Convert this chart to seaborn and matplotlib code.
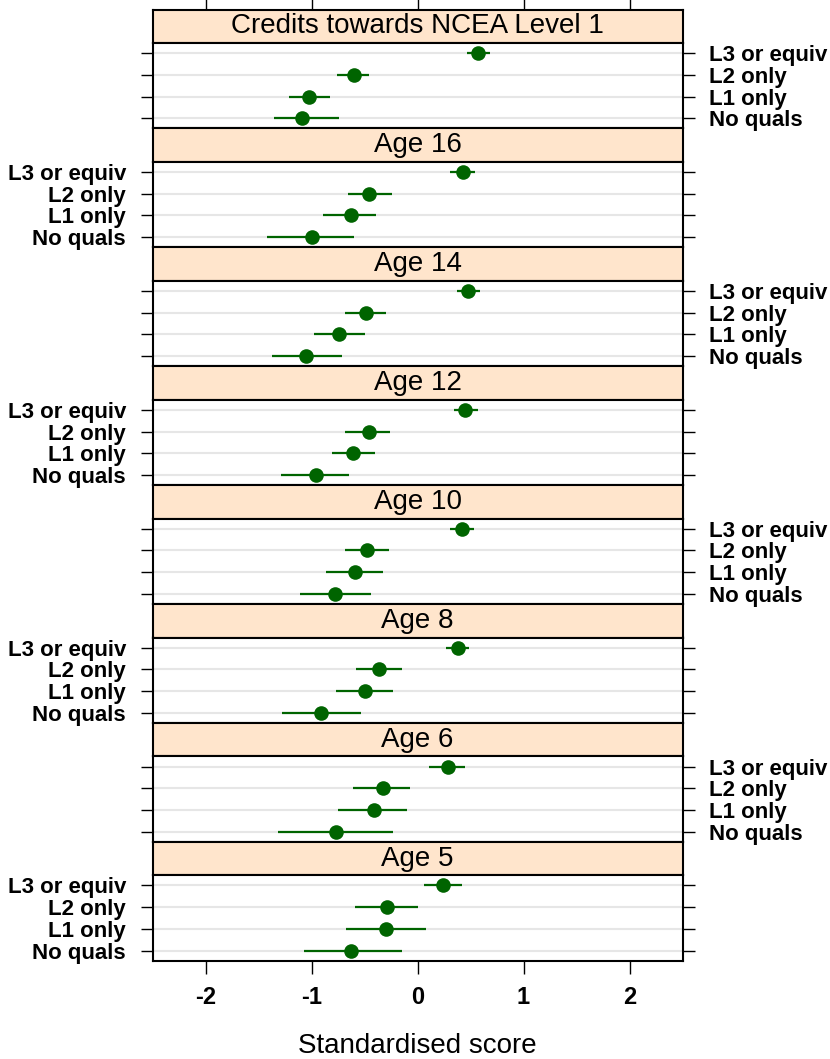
import numpy as np
import pandas as pd
import matplotlib
matplotlib.use("Agg")
import matplotlib.pyplot as plt
import seaborn as sns

sns.set_theme(style="white")
plt.rcParams["font.family"] = ["Liberation Sans", "DejaVu Sans"]
plt.rcParams.update({"text.color": "black", "axes.labelcolor": "black",
                     "xtick.color": "black", "ytick.color": "black"})

# Parental qualification groups (top to bottom within each panel)
quals = ["L3 or equiv", "L2 only", "L1 only", "No quals"]

# Outcome panels, top to bottom
panels = ["Credits towards NCEA Level 1", "Age 16", "Age 14", "Age 12",
          "Age 10", "Age 8", "Age 6", "Age 5"]

# Mean standardised score per panel, in the order of `quals`
est_ncea = [0.57, -0.60, -1.02, -1.09]
est_16 = [0.43, -0.46, -0.63, -1.00]
est_14 = [0.48, -0.49, -0.74, -1.05]
est_12 = [0.45, -0.46, -0.61, -0.96]
est_10 = [0.42, -0.48, -0.59, -0.78]
est_8 = [0.38, -0.36, -0.50, -0.91]
est_6 = [0.29, -0.33, -0.41, -0.77]
est_5 = [0.24, -0.29, -0.30, -0.63]

# Lower confidence limits
lo_ncea = [0.47, -0.76, -1.21, -1.35]
lo_16 = [0.31, -0.66, -0.89, -1.42]
lo_14 = [0.37, -0.68, -0.98, -1.37]
lo_12 = [0.34, -0.68, -0.81, -1.29]
lo_10 = [0.31, -0.68, -0.86, -1.11]
lo_8 = [0.27, -0.58, -0.77, -1.28]
lo_6 = [0.11, -0.61, -0.75, -1.32]
lo_5 = [0.06, -0.59, -0.67, -1.07]

# Upper confidence limits
hi_ncea = [0.68, -0.46, -0.83, -0.74]
hi_16 = [0.54, -0.24, -0.39, -0.60]
hi_14 = [0.59, -0.30, -0.50, -0.71]
hi_12 = [0.57, -0.26, -0.40, -0.65]
hi_10 = [0.53, -0.27, -0.33, -0.44]
hi_8 = [0.49, -0.15, -0.23, -0.53]
hi_6 = [0.45, -0.07, -0.10, -0.23]
hi_5 = [0.42, 0.00, 0.08, -0.15]

x_ticks = [-2, -1, 0, 1, 2]
x_label = "Standardised score"

estimates = [est_ncea, est_16, est_14, est_12, est_10, est_8, est_6, est_5]
lowers = [lo_ncea, lo_16, lo_14, lo_12, lo_10, lo_8, lo_6, lo_5]
uppers = [hi_ncea, hi_16, hi_14, hi_12, hi_10, hi_8, hi_6, hi_5]

rows = []
for name, est, lo, hi in zip(panels, estimates, lowers, uppers):
    for q, e, l, h in zip(quals, est, lo, hi):
        rows.append({"panel": name, "qual": q, "score": e, "lower": l, "upper": h})
df = pd.DataFrame(rows)

GREEN = "#006400"
STRIP = "#ffe5cc"
GRID = "#e6e6e6"

W, H = 830, 1059
fig = plt.figure(figsize=(W / 100, H / 100), dpi=100)

left_px, right_px = 152.5, 682.5
top_px = 9.5
strip_h = 33.5
panel_h = 85.4
block = strip_h + panel_h

def fx(px):
    return px / W

def fy(px):
    return 1 - px / H

for i, name in enumerate(panels):
    sub = df[df["panel"] == name]
    s_top = top_px + i * block
    p_top = s_top + strip_h

    # strip with the panel title
    sax = fig.add_axes([fx(left_px), fy(p_top), fx(right_px - left_px), strip_h / H])
    sax.set_facecolor(STRIP)
    sax.set_xlim(-2.5, 2.5)
    sax.set_ylim(0, 1)
    sax.set_yticks([])
    sax.text(0, 0.5, name, ha="center", va="center", fontsize=20, color="black")
    for sp in sax.spines.values():
        sp.set_linewidth(1.5)
        sp.set_color("black")
    if i == 0:
        sax.set_xticks(x_ticks)
        sax.tick_params(axis="x", top=True, bottom=False, labeltop=False,
                        labelbottom=False, length=9.5, width=1, direction="out",
                        color="black")
    else:
        sax.set_xticks([])

    # data panel
    ax = fig.add_axes([fx(left_px), fy(p_top + panel_h), fx(right_px - left_px), panel_h / H])
    pos = np.arange(len(quals))
    ax.hlines(pos, -2.5, 2.5, color=GRID, lw=1.5, zorder=0)
    ax.hlines(pos, sub["lower"].values, sub["upper"].values, color=GREEN, lw=1.6, zorder=2)
    sns.stripplot(data=sub, x="score", y="qual", order=quals, jitter=False,
                  color=GREEN, size=10.5, linewidth=0, ax=ax, zorder=3)
    ax.set_xlim(-2.5, 2.5)
    ax.set_ylim(3.47, -0.47)
    ax.set_ylabel("")
    ax.set_yticks(pos)
    ax.set_yticklabels(quals, fontsize=16, fontweight="bold", color="black")
    labels_right = (i % 2 == 0)
    ax.tick_params(axis="y", left=True, right=True, labelleft=not labels_right,
                   labelright=labels_right, length=8.5, width=1, pad=10.5,
                   direction="out", color="black")
    for sp in ax.spines.values():
        sp.set_linewidth(1.5)
        sp.set_color("black")

    if i == len(panels) - 1:
        ax.set_xticks(x_ticks)
        ax.set_xticklabels([str(t) for t in x_ticks], fontsize=17, fontweight="bold",
                           color="black")
        ax.tick_params(axis="x", bottom=True, top=False, length=9.5, width=1,
                       pad=9, direction="out", color="black")
        ax.set_xlabel(x_label, fontsize=20, labelpad=17, color="black")
    else:
        ax.set_xticks([])
        ax.set_xlabel("")

fig.savefig("out.png", dpi=100)
